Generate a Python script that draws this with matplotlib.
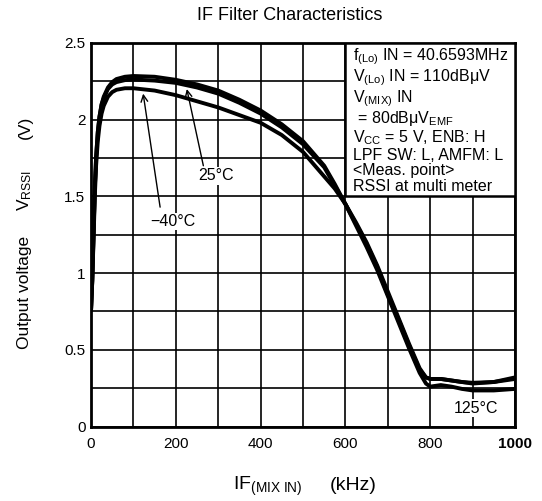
import matplotlib.pyplot as plt
from matplotlib.patches import Rectangle

plt.rcParams['font.family'] = ['Liberation Sans', 'DejaVu Sans']
plt.rcParams['mathtext.fontset'] = 'custom'
plt.rcParams['mathtext.rm'] = 'Liberation Sans'
plt.rcParams['mathtext.it'] = 'Liberation Sans'

# frequency (kHz) and output voltage (V)
freq_25 = [0, 3, 6, 9, 12, 16, 20, 25, 30, 40, 50, 60, 80, 100, 150, 200, 250, 300,
           350, 400, 450, 500, 550, 575, 600, 625, 650, 675, 700, 725, 750, 775, 790,
           800, 825, 850, 875, 900, 950, 1000]
volt_25 = [0.75, 0.95, 1.25, 1.55, 1.75, 1.92, 2.02, 2.10, 2.15, 2.21, 2.245, 2.265, 2.28,
           2.285, 2.28, 2.26, 2.23, 2.19, 2.13, 2.06, 1.97, 1.86, 1.70, 1.58, 1.45, 1.32,
           1.19, 1.04, 0.86, 0.70, 0.53, 0.37, 0.32, 0.31, 0.31, 0.30, 0.29, 0.285, 0.29,
           0.32]

freq_m40 = [0, 3, 6, 9, 12, 16, 20, 25, 30, 40, 50, 60, 80, 100, 150, 200, 250, 300,
            350, 400, 450, 500, 550, 575, 600, 625, 650, 675, 700, 725, 750, 775, 790,
            800, 825, 850, 875, 900, 950, 1000]
volt_m40 = [0.75, 0.95, 1.22, 1.50, 1.70, 1.86, 1.96, 2.04, 2.09, 2.15, 2.18, 2.195, 2.205,
            2.205, 2.19, 2.16, 2.12, 2.08, 2.03, 1.98, 1.90, 1.79, 1.63, 1.55, 1.45, 1.33,
            1.20, 1.05, 0.88, 0.71, 0.54, 0.38, 0.32, 0.31, 0.31, 0.30, 0.29, 0.28, 0.29,
            0.31]

freq_125 = [0, 3, 6, 9, 12, 16, 20, 25, 30, 40, 50, 60, 80, 100, 150, 200, 250, 300,
            350, 400, 450, 500, 550, 575, 600, 625, 650, 675, 700, 725, 750, 775, 790,
            800, 825, 850, 875, 900, 950, 1000]
volt_125 = [0.75, 0.96, 1.27, 1.56, 1.76, 1.92, 2.02, 2.10, 2.14, 2.20, 2.23, 2.245, 2.258,
            2.262, 2.255, 2.24, 2.21, 2.17, 2.11, 2.04, 1.95, 1.84, 1.69, 1.57, 1.45, 1.31,
            1.17, 1.02, 0.85, 0.68, 0.51, 0.35, 0.28, 0.26, 0.27, 0.26, 0.245, 0.235, 0.235,
            0.245]

x_ticks = [0, 200, 400, 600, 800, 1000]
x_labels = ['0', '200', '400', '600', '800', '1000']
y_ticks = [0, 0.5, 1, 1.5, 2, 2.5]
y_labels = ['0', '0.5', '1', '1.5', '2', '2.5']

info_lines = [
    r'f$_{\mathrm{(Lo)}}$ IN = 40.6593MHz',
    r'V$_{\mathrm{(Lo)}}$ IN = 110dB$\mathrm{\mu}$V',
    r'V$_{\mathrm{(MIX)}}$ IN',
    r' = 80dB$\mathrm{\mu}$V$_{\mathrm{EMF}}$',
    r'V$_{\mathrm{CC}}$ = 5 V, ENB: H',
    'LPF SW: L, AMFM: L',
    '<Meas. point>',
    'RSSI at multi meter',
]

W, H = 542, 501
fig = plt.figure(figsize=(W / 100, H / 100), dpi=100)
ax = fig.add_axes([91 / W, 1 - 426.5 / H, 424 / W, 383.5 / H])

ax.set_xlim(0, 1000)
ax.set_ylim(0, 2.5)
ax.set_xticks(range(0, 1001, 100), minor=True)
ax.set_yticks([i * 0.25 for i in range(11)], minor=True)
ax.set_xticks(x_ticks)
ax.set_xticklabels(x_labels, fontsize=11)
ax.get_xticklabels()[-1].set_fontweight('bold')
ax.set_yticks(y_ticks)
ax.set_yticklabels(y_labels, fontsize=11)
ax.tick_params(which='both', length=0)
ax.tick_params(axis='x', pad=7.5)
ax.tick_params(axis='y', pad=4)
ax.grid(which='both', color='black', linewidth=1.2)
ax.set_axisbelow(True)
for sp in ax.spines.values():
    sp.set_linewidth(2)

for f, v in [(freq_m40, volt_m40), (freq_125, volt_125), (freq_25, volt_25)]:
    ax.plot(f, v, color='black', linewidth=2.8, solid_joinstyle='round',
            solid_capstyle='butt', zorder=3)

# info box, one block of text so the lines sit like the reference
ax.add_patch(Rectangle((600, 1.5), 400, 1.0, facecolor='white', edgecolor='black',
                       linewidth=1.8, zorder=4))
ax.text(617, (426.5 - 46) / 153.4, '\n'.join(info_lines), fontsize=11.5, va='top',
        ha='left', linespacing=1.035, zorder=5)

bbox = dict(facecolor='white', edgecolor='none', pad=1)
arrow = dict(arrowstyle='->', color='black', lw=1.0, shrinkA=0, shrinkB=0,
             mutation_scale=12)
ax.annotate('', xy=(226, 2.20), xytext=(265, 1.70), arrowprops=arrow, zorder=6)
ax.annotate('', xy=(123, 2.17), xytext=(163, 1.43), arrowprops=arrow, zorder=6)
ax.text(295, 1.634, '25°C', fontsize=11.5, ha='center', va='center', bbox=bbox, zorder=7)
ax.text(194, 1.336, '−40°C', fontsize=11.5, ha='center', va='center', bbox=bbox, zorder=7)
ax.text(907, 0.119, '125°C', fontsize=11.5, ha='center', va='center', bbox=bbox, zorder=7)

fig.text(290 / W, 1 - 15 / H, 'IF Filter Characteristics', fontsize=13,
         ha='center', va='center')
fig.text(233 / W, 1 - 490 / H, r'IF$_{\mathrm{(MIX\ IN)}}$', fontsize=14,
         ha='left', va='baseline')
fig.text(330 / W, 1 - 490 / H, '(kHz)', fontsize=14, ha='left', va='baseline')
fig.text(25 / W, 1 - 292 / H, 'Output voltage', fontsize=12.5, rotation=90,
         ha='center', va='center')
fig.text(25 / W, 1 - 190 / H, r'V$_{\mathrm{RSSI}}$', fontsize=12.5, rotation=90,
         ha='center', va='center')
fig.text(25 / W, 1 - 127 / H, '(V)', fontsize=12.5, rotation=90,
         ha='center', va='center')

fig.savefig('out.png', dpi=100)
